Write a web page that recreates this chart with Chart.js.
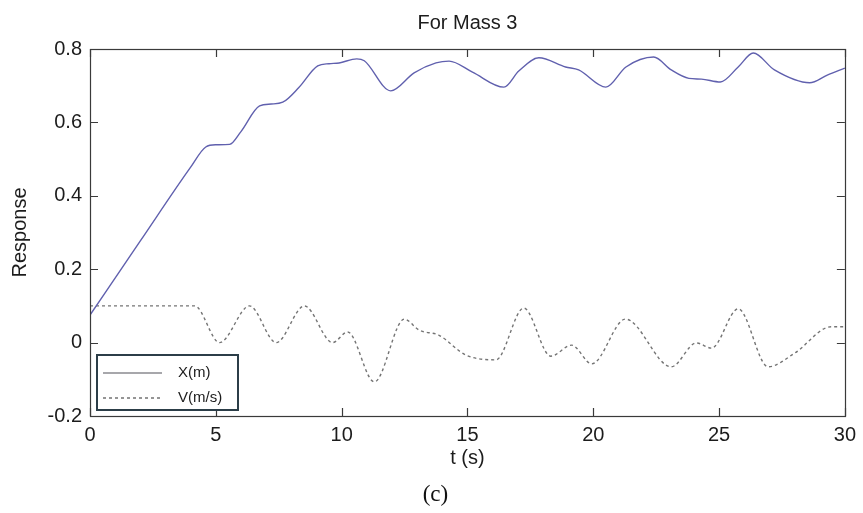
<!DOCTYPE html>
<html>
<head>
<meta charset="utf-8">
<script src="https://cdn.jsdelivr.net/npm/chart.js@4"></script>
<style>
  html, body { margin: 0; padding: 0; background: #fff; }
  #wrap { width: 863px; height: 513px; }
</style>
</head>
<body>
<div id="wrap"><canvas id="c" width="863" height="513"></canvas></div>
<script>
// Displacement of mass 3, X(m)
const tX = [0, 2, 4.0, 4.6, 5.0, 5.55, 6.0, 6.74, 7.2, 7.66, 8.3, 9.05, 9.5, 9.9, 10.6, 10.9,
            11.95, 12.88, 13.75, 14.27, 15.2, 16.45, 17.04, 17.84, 18.9, 19.42, 20.5, 21.3,
            22.4, 23.1, 23.8, 24.3, 25.05, 25.76, 26.36, 27.2, 28.6, 29.3, 30];
const xVals = [0.075, 0.277, 0.478, 0.533, 0.539, 0.540, 0.575, 0.645, 0.650, 0.655, 0.695, 0.754, 0.760, 0.762, 0.773, 0.768,
               0.686, 0.735, 0.762, 0.767, 0.737, 0.696, 0.740, 0.776, 0.751, 0.743, 0.696, 0.751,
               0.778, 0.743, 0.720, 0.718, 0.710, 0.751, 0.789, 0.743, 0.708, 0.729, 0.748];

// Velocity of mass 3, V(m/s)
const tV = [0, 4.16, 5.15, 6.34, 7.4, 8.52, 9.64, 10.24, 11.3, 12.49, 13.08, 13.87, 14.94, 16.13,
            17.24, 18.31, 19.14, 19.94, 21.28, 23.1, 24.1, 24.7, 25.76, 26.95, 28.02, 29.45, 30];
const vVals = [0.1, 0.1, 0.0, 0.1, 0.0, 0.1, 0.0, 0.029, -0.107, 0.064, 0.034, 0.02, -0.034, -0.047,
               0.094, -0.037, -0.007, -0.058, 0.064, -0.066, -0.001, -0.015, 0.092, -0.066, -0.028, 0.043, 0.043];

const seriesLabels = ['X(m)', 'V(m/s)'];
const xTickStep = 5;
const yTickStep = 0.2;
const caption = '(c)';

const toPoints = (ts, vs) => ts.map((t, i) => ({ x: t, y: vs[i] }));

const SANS = "'Liberation Sans', Arial, sans-serif";
const SERIF = "'Liberation Serif', 'Times New Roman', serif";
const INK = '#1c1c1c';

// Axes box with inward tick marks on all four sides
const axesFrame = {
  id: 'axesFrame',
  afterDatasetsDraw(chart) {
    const { ctx, chartArea: a, scales } = chart;
    const len = 8;
    ctx.save();
    ctx.strokeStyle = '#3a3a3a';
    ctx.lineWidth = 1.2;
    ctx.beginPath();
    scales.x.ticks.forEach(tk => {
      const px = Math.round(scales.x.getPixelForValue(tk.value)) + 0.5;
      ctx.moveTo(px, a.bottom); ctx.lineTo(px, a.bottom - len);
      ctx.moveTo(px, a.top); ctx.lineTo(px, a.top + len);
    });
    scales.y.ticks.forEach(tk => {
      const py = Math.round(scales.y.getPixelForValue(tk.value)) + 0.5;
      ctx.moveTo(a.left, py); ctx.lineTo(a.left + len, py);
      ctx.moveTo(a.right, py); ctx.lineTo(a.right - len, py);
    });
    ctx.stroke();
    ctx.strokeRect(Math.round(a.left) + 0.5, Math.round(a.top) + 0.5,
                   Math.round(a.right - a.left), Math.round(a.bottom - a.top));
    ctx.restore();
  }
};

// Boxed legend in the lower-left corner of the axes
const boxedLegend = {
  id: 'boxedLegend',
  afterDatasetsDraw(chart) {
    const { ctx, chartArea: a } = chart;
    const bx = a.left + 7, by = a.bottom - 61, bw = 141, bh = 55;
    ctx.save();
    ctx.fillStyle = '#fff';
    ctx.fillRect(bx, by, bw, bh);
    ctx.strokeStyle = '#2c3e48';
    ctx.lineWidth = 2;
    ctx.strokeRect(bx, by, bw, bh);
    ctx.font = '15px ' + SANS;
    ctx.textBaseline = 'middle';
    ctx.fillStyle = INK;
    chart.data.datasets.forEach((ds, i) => {
      const y = by + 18 + i * 25;
      ctx.strokeStyle = ds.legendColor || ds.borderColor;
      ctx.lineWidth = 1.2;
      ctx.setLineDash(ds.borderDash || []);
      ctx.beginPath();
      ctx.moveTo(bx + 6, y); ctx.lineTo(bx + 65, y);
      ctx.stroke();
      ctx.setLineDash([]);
      ctx.fillText(ds.label, bx + 81, y);
    });
    ctx.restore();
  }
};

// Figure caption below the x-axis title
const figureCaption = {
  id: 'figureCaption',
  afterDraw(chart) {
    const { ctx, chartArea: a } = chart;
    ctx.save();
    ctx.font = '23px ' + SERIF;
    ctx.fillStyle = '#111';
    ctx.textAlign = 'center';
    ctx.textBaseline = 'middle';
    ctx.fillText(caption, (a.left + a.right) / 2 - 32, a.bottom + 79);
    ctx.restore();
  }
};

new Chart(document.getElementById('c'), {
  type: 'line',
  data: {
    datasets: [
      {
        label: seriesLabels[0],
        data: toPoints(tX, xVals),
        borderColor: '#6060ae',
        legendColor: '#505058',
        borderWidth: 1.4,
        pointRadius: 0,
        cubicInterpolationMode: 'monotone',
        fill: false
      },
      {
        label: seriesLabels[1],
        data: toPoints(tV, vVals),
        borderColor: '#747474',
        legendColor: '#505050',
        borderDash: [3, 3],
        borderWidth: 1.4,
        pointRadius: 0,
        cubicInterpolationMode: 'monotone',
        fill: false
      }
    ]
  },
  options: {
    responsive: false,
    animation: false,
    devicePixelRatio: 1,
    layout: { padding: { top: 0, left: 0, right: 16, bottom: 31.4 } },
    plugins: {
      legend: { display: false },
      tooltip: { enabled: false },
      title: {
        display: true,
        text: 'For Mass 3',
        fullSize: false,
        color: INK,
        font: { family: SANS, size: 20, weight: 'normal' },
        padding: { top: 11, bottom: 14 }
      }
    },
    scales: {
      x: {
        type: 'linear',
        min: 0,
        max: 30,
        grid: { display: false, drawTicks: false },
        border: { display: false },
        ticks: {
          stepSize: xTickStep,
          padding: 7,
          maxRotation: 0,
          color: INK,
          font: { family: SANS, size: 20 }
        },
        title: {
          display: true,
          text: 't (s)',
          color: INK,
          font: { family: SANS, size: 20 },
          padding: { top: 0, bottom: 11.6 }
        },
        afterFit(scale) { scale.height = 65.6; }
      },
      y: {
        type: 'linear',
        min: -0.2,
        max: 0.8,
        grid: { display: false, drawTicks: false },
        border: { display: false },
        ticks: {
          stepSize: yTickStep,
          padding: 8,
          color: INK,
          font: { family: SANS, size: 20 },
          callback: v => String(Number(v.toFixed(1)))
        },
        title: {
          display: true,
          text: 'Response',
          color: INK,
          font: { family: SANS, size: 20 },
          padding: { top: 8, bottom: 0 }
        },
        afterFit(scale) { scale.width = 90; }
      }
    }
  },
  plugins: [axesFrame, boxedLegend, figureCaption]
});
</script>
</body>
</html>
